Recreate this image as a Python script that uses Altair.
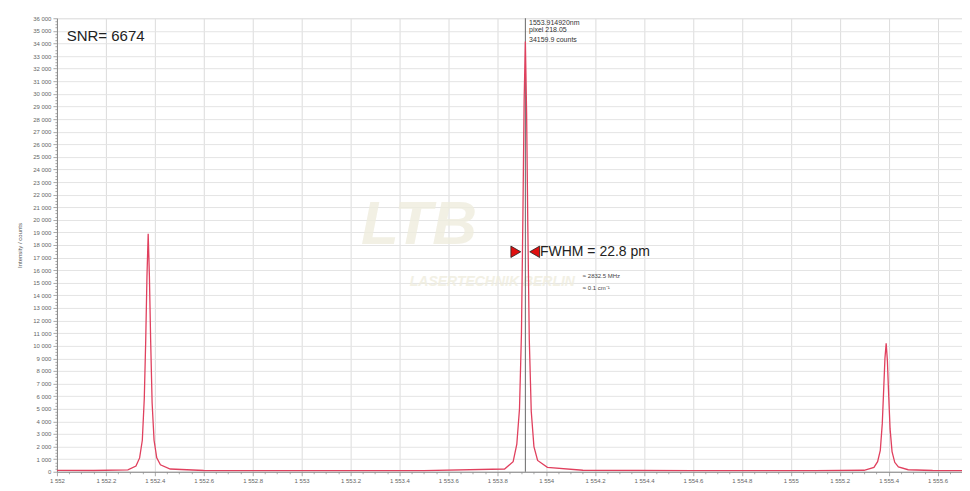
import altair as alt
import pandas as pd

# Spectrum (wavelength in nm, intensity in counts)
wavelength = [
    1552.000, 1552.150, 1552.290, 1552.323, 1552.338, 1552.349, 1552.357, 1552.363, 1552.368,
    1552.373, 1552.378, 1552.383, 1552.389, 1552.397, 1552.408, 1552.423, 1552.463, 1552.600,
    1553.000, 1553.500, 1553.830, 1553.865, 1553.880, 1553.891, 1553.899, 1553.905, 1553.910,
    1553.915, 1553.920, 1553.925, 1553.931, 1553.939, 1553.950, 1553.965, 1554.005, 1554.150,
    1554.600, 1555.100, 1555.300, 1555.340, 1555.355, 1555.366, 1555.374, 1555.380, 1555.385,
    1555.390, 1555.395, 1555.400, 1555.406, 1555.414, 1555.425, 1555.440, 1555.480, 1555.580,
    1555.700,
]
counts = [
    110, 100, 150, 450, 1100, 2500, 5800, 10500, 15500,
    18900, 15500, 10500, 5500, 2500, 1100, 550, 220, 100,
    90, 90, 220, 800, 2200, 5000, 11000, 20500, 29500,
    34160, 28500, 19500, 10500, 4800, 2000, 900, 350, 120,
    90, 90, 120, 350, 800, 1700, 3800, 6600, 9000,
    10200, 8800, 6200, 3400, 1600, 750, 380, 160, 100,
    95,
]

# Annotations
snr_text = ["SNR= 6674"]
snr_pos = [(1552.040, 34550)]
cursor_wl = [1553.915]
cursor_lines = ["1553.914920nm", "pixel   218.05", "34159.9 counts"]
cursor_pos = [(1553.93, 35650), (1553.93, 35080), (1553.93, 34300)]
fwhm_text = ["FWHM = 22.8 pm"]
fwhm_pos = [(1553.975, 17460)]
tri_x = [1553.876, 1553.953]
tri_y = [17460, 17460]
tri_shape = ["triangle-right", "triangle-left"]
small_lines = ["\u2248 2832.5 MHz", "\u2248 0.1 cm\u207b\u00b9"]
small_pos = [(1554.15, 15550), (1554.15, 14620)]
wm_text = ["LTB", "LASERTECHNIK BERLIN"]
wm_pos = [(1553.48, 19600), (1553.78, 15050)]

x_dom = [1552.0, 1555.70]
y_dom = [0, 36000]

spec = pd.DataFrame({"wl": wavelength, "counts": counts})
xs = alt.Scale(domain=x_dom, nice=False, zero=False)
ys = alt.Scale(domain=y_dom, nice=False)

x_vals = [round(1552 + 0.05 * i, 2) for i in range(0, 75)]
y_vals = list(range(0, 36001, 250))

x_major = "abs(datum.value*5 - round(datum.value*5)) < 0.0001"
y_major = "datum.value % 1000 == 0"

x_axis = alt.Axis(
    values=x_vals,
    title=None,
    labelExpr=f"({x_major}) ? replace(format(datum.value, ',.1~f'), ',', ' ') : ''",
    labelFontSize=6, labelColor="#666", labelFont="Liberation Sans",
    labelOverlap=False,
    tickSize={"condition": {"test": x_major, "value": 4}, "value": 2},
    tickColor="#aaa",
    gridColor="#dcdcdc",
    gridOpacity={"condition": {"test": x_major, "value": 1}, "value": 0},
    domainColor="#888", labelPadding=2, labelFlush=False,
)
y_axis = alt.Axis(
    values=y_vals,
    title="Intensity / counts",
    titleFontSize=6, titleFont="Liberation Sans", titleFontWeight="normal", titleColor="#555",
    titlePadding=10,
    labelExpr=f"({y_major}) ? replace(format(datum.value, ','), ',', ' ') : ''",
    labelFontSize=6, labelColor="#666", labelFont="Liberation Sans",
    labelOverlap=False,
    tickSize={"condition": {"test": y_major, "value": 4}, "value": 2},
    tickColor="#aaa",
    gridColor="#e4e4e4",
    gridOpacity={"condition": {"test": y_major, "value": 1}, "value": 0},
    domainColor="#888", labelPadding=2,
)


def X(field):
    return alt.X(field, type="quantitative", scale=xs, axis=x_axis)


def Y(field):
    return alt.Y(field, type="quantitative", scale=ys, axis=y_axis)


# watermark
wm_df = pd.DataFrame({"x": [p[0] for p in wm_pos], "y": [p[1] for p in wm_pos], "t": wm_text, "s": [62, 14]})
wm = alt.Chart(wm_df).mark_text(
    font="Liberation Sans", fontStyle="italic", fontWeight="bold", color="#efedde", opacity=0.8
).encode(
    x=X("x"), y=Y("y"), text="t:N",
    size=alt.Size("s:Q", scale=None, legend=None),
)

cursor = alt.Chart(pd.DataFrame({"x": cursor_wl})).mark_rule(color="#666", strokeWidth=1).encode(
    x=X("x")
)

line = alt.Chart(spec).mark_line(color="#e0405e", strokeWidth=1.3, clip=True).encode(
    x=X("wl"), y=Y("counts"),
)

snr = alt.Chart(pd.DataFrame({"x": [p[0] for p in snr_pos], "y": [p[1] for p in snr_pos], "t": snr_text})).mark_text(
    align="left", baseline="middle", fontSize=15, font="Liberation Sans", color="#222"
).encode(x=X("x"), y=Y("y"), text="t:N")

cur_txt = alt.Chart(pd.DataFrame({"x": [p[0] for p in cursor_pos], "y": [p[1] for p in cursor_pos], "t": cursor_lines})).mark_text(
    align="left", baseline="middle", fontSize=7, font="Liberation Sans", color="#333"
).encode(x=X("x"), y=Y("y"), text="t:N")

fwhm = alt.Chart(pd.DataFrame({"x": [p[0] for p in fwhm_pos], "y": [p[1] for p in fwhm_pos], "t": fwhm_text})).mark_text(
    align="left", baseline="middle", fontSize=14, font="Liberation Sans", color="#222"
).encode(x=X("x"), y=Y("y"), text="t:N")

tris = alt.Chart(pd.DataFrame({"x": tri_x, "y": tri_y, "shape": tri_shape})).mark_point(
    filled=True, color="#e01010", stroke="#222", strokeWidth=0.8, size=130, opacity=1
).encode(
    x=X("x"), y=Y("y"),
    shape=alt.Shape("shape:N", scale=None, legend=None),
)

small = alt.Chart(pd.DataFrame({"x": [p[0] for p in small_pos], "y": [p[1] for p in small_pos], "t": small_lines})).mark_text(
    align="left", baseline="middle", fontSize=6, font="Liberation Sans", color="#444"
).encode(x=X("x"), y=Y("y"), text="t:N")

chart = alt.layer(wm, cursor, line, snr, cur_txt, fwhm, tris, small).properties(
    width=906,
    height=454,
    autosize=alt.AutoSizeParams(type="none"),
    padding={"left": 49, "top": 10, "right": 0, "bottom": 11},
).configure_view(strokeWidth=0).configure(background="white")

chart.save("out.html", embed_options={"renderer": "svg", "actions": False})
